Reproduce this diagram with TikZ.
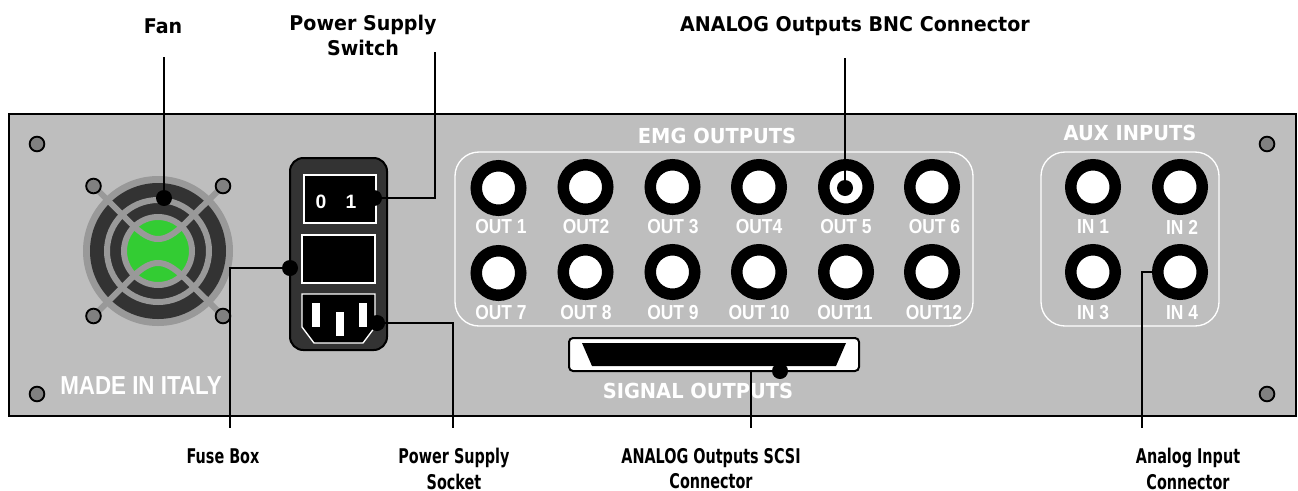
\documentclass[tikz,border=0pt]{standalone}
\usepackage{fontspec}
\setmainfont{DejaVu Sans}
\newfontfamily\headfont[FakeStretch=0.94]{DejaVu Sans}
\newfontfamily\lowfont[FakeStretch=0.71]{DejaVu Sans}
\newfontfamily\jackfont[FakeStretch=0.86]{Liberation Sans}
\newfontfamily\digitfont{Liberation Sans}
\usepackage{tikz}
\usetikzlibrary{positioning}
\definecolor{panelgray}{HTML}{BEBEBE}
\definecolor{fangray}{HTML}{999999}
\definecolor{fandark}{HTML}{333333}
\definecolor{fangreen}{HTML}{33CC33}
\definecolor{screwgray}{HTML}{808080}
\begin{document}
\begin{tikzpicture}[
  x=0.75pt, y=-0.75pt,
  callout/.style={align=center, inner sep=0pt, font=\headfont\bfseries\fontsize{15.2}{18.5}\selectfont},
  lowcallout/.style={align=center, inner sep=0pt, anchor=north, font=\lowfont\bfseries\fontsize{15.2}{19}\selectfont},
  panelhead/.style={white, inner sep=0pt, font=\headfont\bfseries\fontsize{15.5}{18}\selectfont},
  jacklabel/.style={white, inner sep=0pt, font=\jackfont\bfseries\fontsize{15.2}{18}\selectfont},
  screw/.style={circle, draw=black, fill=screwgray, line width=1.4pt, minimum size=11pt, inner sep=0pt},
  bnc/.style={circle, draw=black, fill=white, line width=8.6pt, minimum size=33.4pt, inner sep=0pt},
  group/.style={draw=white, line width=1pt, rounded corners=18pt},
  bay/.style={draw=white, fill=black, line width=1pt},
  pin/.style={fill=white, draw=none},
  dot/.style={circle, fill=black, minimum size=12pt, inner sep=0pt},
  leader/.style={draw=black, line width=1.5pt},
  guard/.style={draw=fangray, line width=4.5pt}
]
\useasboundingbox (0,0) rectangle (1298,490);
% panel
\draw[black, fill=panelgray, line width=1.5pt] (9,114) rectangle (1296,416);
\foreach \name/\px/\py in {pa/37/144, pb/37/394, pc/1267/144, pd/1267/394}
  \node[screw] (\name) at (\px,\py) {};

% fan
\coordinate (fan) at (158,251);
\fill[fangray] (fan) circle (75);
\fill[fandark] (fan) circle (68);
\draw[guard] (fan) circle (51);
\fill[fangreen] (fan) circle (34);
\draw[guard] (fan) circle (34);
\draw[guard] (93.5,186) -- (131.5,224) .. controls (151.5,244) and (164.5,244) .. (184.5,224) -- (223,186);
\draw[guard] (93.5,316) -- (131.5,278) .. controls (151.5,258) and (164.5,258) .. (184.5,278) -- (223,316);
\foreach \name/\px/\py in {fa/93.5/186, fb/223/186, fc/93.5/316, fd/223/316}
  \node[screw] (\name) at (\px,\py) {};
\node[white, inner sep=0pt, font=\jackfont\bfseries\fontsize{19.5}{22}\selectfont] (italy) at (141,386) {MADE IN ITALY};

% power module
\draw[black, fill=fandark, line width=1.5pt, rounded corners=10pt] (290,158) rectangle (387,350);
\draw[bay] (304,175) rectangle (376,223);
\draw[bay] (302,235) rectangle (375,283);
\draw[bay] (302,294) -- (375,294) -- (375,327) -- (363,343) -- (314,343) -- (302,327) -- cycle;
\node[white, inner sep=0pt, font=\digitfont\bfseries\fontsize{14.5}{18}\selectfont] (zero) at (321,201.5) {0};
\node[white, inner sep=0pt, font=\digitfont\bfseries\fontsize{14.5}{18}\selectfont] (one) at (351,201.5) {1};
\fill[pin] (312,303) rectangle (320,327);
\fill[pin] (336,312) rectangle (344,336);
\fill[pin] (359,303) rectangle (367,327);

% jacks
\draw[group] (455,152) rectangle (973,326);
\draw[group] (1041,152) rectangle (1219,326);
\node[panelhead] (emghead) at (717,136) {EMG OUTPUTS};
\node[panelhead] (auxhead) at (1130,133) {AUX INPUTS};
\foreach \name/\px/\py/\lx/\ly/\txt in {
  out1/498.5/188/501/227/OUT 1, out2/585.5/187/586/227/OUT2, out3/672.5/187/673/227/OUT 3,
  out4/759/187/759/227/OUT4, out5/846/187/846/227/OUT 5, out6/932/187/934.5/227/OUT 6,
  out7/498.5/273/501/313/OUT 7, out8/585.5/272/586/313/OUT 8, out9/672.5/272/673/313/OUT 9,
  out10/759/272/759/313/OUT 10, out11/846/272/845/313/OUT11, out12/932/272/934/313/OUT12,
  in1/1093/187/1093/227/IN 1, in2/1180/187/1182/227/IN 2, in3/1093/272/1093/313/IN 3, in4/1180/272/1182/313/IN 4} {
  \node[bnc] (\name) at (\px,\py) {};
  \node[jacklabel] at (\lx,\ly) {\txt};
}

% scsi connector
\draw[black, fill=white, line width=1.5pt, rounded corners=3pt] (569,338) rectangle (859,371);
\fill[black] (582,343) -- (846,343) -- (836,366) -- (592,366) -- cycle;
\node[panelhead] (sighead) at (698,391) {SIGNAL OUTPUTS};

% callouts
\node[callout] (fanlbl) at (163,26) {Fan};
\node[callout, anchor=north] (switchlbl) at (363,15) {Power Supply\\Switch};
\node[callout] (bnclbl) at (855,26) {ANALOG Outputs BNC Connector};
\node[lowcallout] (fuselbl) at (223,448) {Fuse Box};
\node[lowcallout] (socketlbl) at (454,448) {Power Supply\\Socket};
\node[lowcallout] (scsilbl) at (711,448) {ANALOG Outputs SCSI\\Connector};
\node[lowcallout] (inputlbl) at (1188,448) {Analog Input\\Connector};

\node[dot] (fandot) at (164,198) {};
\node[dot] (switchdot) at (374,198) {};
\node[dot] (fusedot) at (290,268) {};
\node[dot] (socketdot) at (377,323) {};
\node[dot] (bncdot) at (845,188) {};
\node[dot] (scsidot) at (780,371) {};

\coordinate (fanend) at (164,57);
\coordinate (switchend) at (435,52);
\coordinate (bncend) at (845,58);
\coordinate (fuseend) at (230,428);
\coordinate (socketend) at (453,428);
\coordinate (scsiend) at (751,428);
\coordinate (inputend) at (1142,428);

\draw[leader] (fanend) -- (fandot);
\draw[leader] (switchdot) -| (switchend);
\draw[leader] (bncend) -- (bncdot);
\draw[leader] (fusedot) -| (fuseend);
\draw[leader] (socketdot) -| (socketend);
\draw[leader] (scsidot) -| (scsiend);
\draw[leader] (in4.west) -| (inputend);
\end{tikzpicture}
\end{document}
